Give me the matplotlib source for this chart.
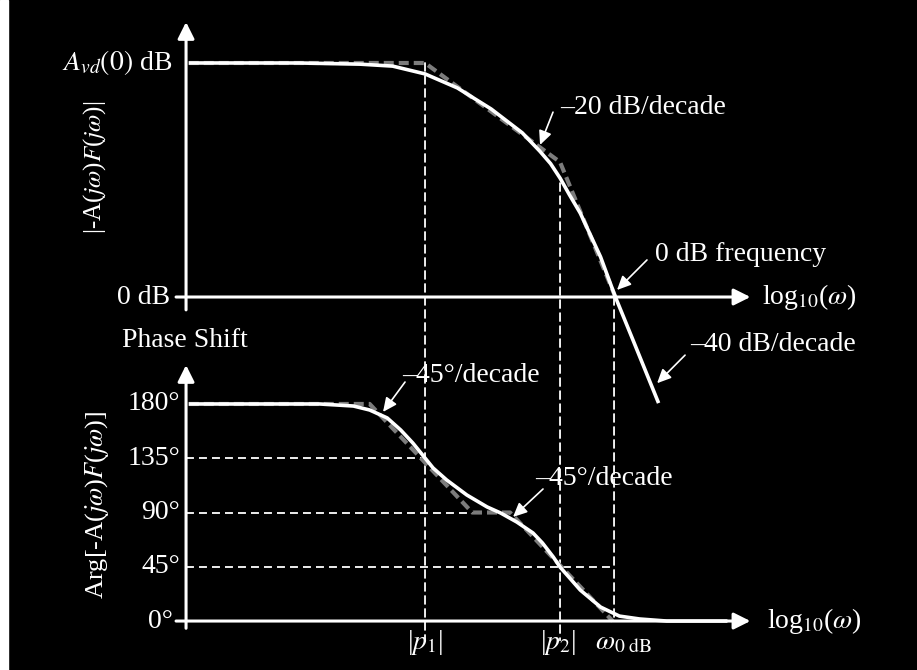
import matplotlib
matplotlib.use('Agg')
import matplotlib.pyplot as plt
from matplotlib.patches import ConnectionPatch, Rectangle

plt.rcParams['font.family'] = ['Liberation Serif', 'DejaVu Serif']
plt.rcParams['mathtext.fontset'] = 'stix'

# ── data (x in decades of log10(w), magnitude in dB, phase in degrees) ──
P1, P2, W0 = 2.0, 3.0, 3.40
A0_DB = 60.0
Y_AXIS_X = 0.23
X_AXIS_END = 4.41

# magnitude |-A(jw)F(jw)|
mag_x = [0.25, 1.07, 1.52, 1.76, 2.00, 2.24, 2.49, 2.72, 2.85, 2.93,
         3.00, 3.07, 3.15, 3.30, 3.41, 3.54, 3.73]
mag_db = [60.0, 60.0, 59.7, 59.2, 57.2, 53.6, 48.2, 42.1, 37.4, 34.2,
          30.5, 26.2, 21.5, 10.3, 0.0, -11.0, -27.2]
# straight-line asymptotes (grey dashed)
mag_asym_x = [0.25, 2.00, 3.00, 3.41]
mag_asym_db = [60.0, 60.0, 34.6, 0.0]

# phase Arg[-A(jw)F(jw)]
ph_x = [0.25, 1.22, 1.47, 1.59, 1.72, 1.82, 1.91, 2.00, 2.06, 2.16,
        2.31, 2.46, 2.56, 2.68, 2.80, 2.87, 2.95, 3.00, 3.15, 3.30,
        3.44, 3.59, 3.79, 4.24]
ph_deg = [180.0, 180.0, 178.3, 175.0, 168.4, 158.4, 147.6, 135.2, 126.9, 117.0,
          104.5, 94.6, 89.6, 82.1, 73.0, 64.7, 53.1, 44.8, 25.7, 11.6,
          4.1, 1.7, 0.0, 0.0]
ph_asym_x = [0.25, 1.59, 2.35, 2.63, 3.39]
ph_asym_deg = [180.0, 180.0, 90.0, 90.0, 0.0]

phase_ticks = [180, 135, 90, 45, 0]
phase_tick_labels = ['180°', '135°', '90°', '45°', '0°']

# ── figure ──
fig = plt.figure(figsize=(9.17, 6.7), dpi=100, facecolor='black')
ax_m = fig.add_axes([0, 0.5, 1, 0.5])
ax_p = fig.add_axes([0, 0.0, 1, 0.5])
for ax in (ax_m, ax_p):
    ax.set_xlim(-1.148, 5.644)
    ax.axis('off')
ax_m.set_ylim(-9.74, 76.15)
ax_p.set_ylim(-40.6, 237.2)

fig.add_artist(Rectangle((0, 0), 8 / 917, 1, transform=fig.transFigure,
                         color='white', zorder=-5))

W = 'white'
GREY = '#7c7c7c'
FS = 20
guide = dict(color=W, lw=1.3, linestyle=(0, (4.4, 2.8)))
curve = dict(color=W, lw=2.6, zorder=3, solid_joinstyle='round',
             solid_capstyle='butt', clip_on=False)
asym = dict(color=GREY, lw=3, linestyle=(0, (2.4, 1.2)), zorder=2, clip_on=False)


def axis_arrow(ax, start, tip):
    ax.annotate('', xy=tip, xytext=start, annotation_clip=False,
                arrowprops=dict(arrowstyle='-|>,head_length=0.5,head_width=0.25',
                                color=W, lw=2.2, mutation_scale=20,
                                shrinkA=0, shrinkB=0))


def note(ax, text, pos, start, tip):
    ax.text(pos[0], pos[1], text, color=W, fontsize=FS, ha='left', va='center')
    ax.annotate('', xy=tip, xytext=start, annotation_clip=False,
                arrowprops=dict(arrowstyle='-|>,head_length=0.6,head_width=0.28',
                                color=W, lw=1.2, mutation_scale=14,
                                shrinkA=0, shrinkB=0))


def vguide(x, top_ax, y_top, bot_ax, y_bot):
    con = ConnectionPatch(xyA=(x, y_top), coordsA=top_ax.transData,
                          xyB=(x, y_bot), coordsB=bot_ax.transData,
                          arrowstyle='-', shrinkA=0, shrinkB=0, zorder=-1, **guide)
    fig.add_artist(con)


# vertical guide lines
vguide(P1, ax_m, A0_DB, ax_p, -16)
vguide(P2, ax_m, 29.2, ax_p, -16)
vguide(W0, ax_m, 0, ax_p, 0)

# ── magnitude panel ──
axis_arrow(ax_m, (Y_AXIS_X, -3.3), (Y_AXIS_X, 70.5))
axis_arrow(ax_m, (0.156, 0), (X_AXIS_END, 0))
ax_m.plot(mag_asym_x, mag_asym_db, **asym)
ax_m.plot(mag_x, mag_db, **curve)

ax_m.text(0.126, A0_DB, r'$A_{vd}(0)$ dB', color=W, fontsize=FS,
          ha='right', va='center')
ax_m.text(0.11, 0, '0 dB', color=W, fontsize=FS, ha='right', va='center')
ax_m.text(-0.444, 33.3, r'|-A($j\omega$)$F$($j\omega$)|', color=W,
          fontsize=18, rotation=90, ha='center', va='center')
ax_m.text(4.496, 0, r'log$_{10}$($\omega$)', color=W, fontsize=FS,
          ha='left', va='center')

note(ax_m, '–20 dB/decade', (3.0, 48.5), (2.948, 47.4), (2.852, 39.0))
note(ax_m, '0 dB frequency', (3.704, 10.8), (3.644, 9.5), (3.422, 1.8))
note(ax_m, '–40 dB/decade', (3.963, -12.3), (3.926, -14.9), (3.719, -22.1))

# ── phase panel ──
axis_arrow(ax_p, (Y_AXIS_X, -6), (Y_AXIS_X, 212.3))
axis_arrow(ax_p, (0.156, 0), (X_AXIS_END, 0))
ax_p.plot([Y_AXIS_X, P1], [135, 135], **guide)
ax_p.plot([Y_AXIS_X, 2.4], [90, 90], **guide)
ax_p.plot([Y_AXIS_X, W0], [45, 45], **guide)
ax_p.plot(ph_asym_x, ph_asym_deg, **asym)
ax_p.plot(ph_x, ph_deg, **curve)

for t, lab in zip(phase_ticks, phase_tick_labels):
    xr = 0.13 if t == 0 else 0.185
    ax_p.text(xr, t, lab, color=W, fontsize=FS, ha='right', va='center')

ax_p.text(0.222, 232.3, 'Phase Shift', color=W, fontsize=FS,
          ha='center', va='center')
ax_p.text(-0.43, 96.2, r'Arg[-A($j\omega$)$F$($j\omega$)]', color=W,
          fontsize=19, rotation=90, ha='center', va='center')
ax_p.text(4.53, 0, r'log$_{10}$($\omega$)', color=W, fontsize=FS,
          ha='left', va='center')
ax_p.text(P1, -18.2, r'|$p_1$|', color=W, fontsize=FS, ha='center', va='center')
ax_p.text(2.985, -18.2, r'|$p_2$|', color=W, fontsize=FS, ha='center', va='center')
ax_p.text(3.26, -18.2, r'$\omega_{0\ \mathrm{dB}}$', color=W, fontsize=FS,
          ha='left', va='center')

note(ax_p, '–45°/decade', (1.83, 204.0), (1.852, 198.2), (1.689, 173.4))
note(ax_p, '–45°/decade', (2.815, 117.8), (2.874, 109.5), (2.652, 86.3))

fig.savefig('out.png', dpi=100, facecolor='black')
